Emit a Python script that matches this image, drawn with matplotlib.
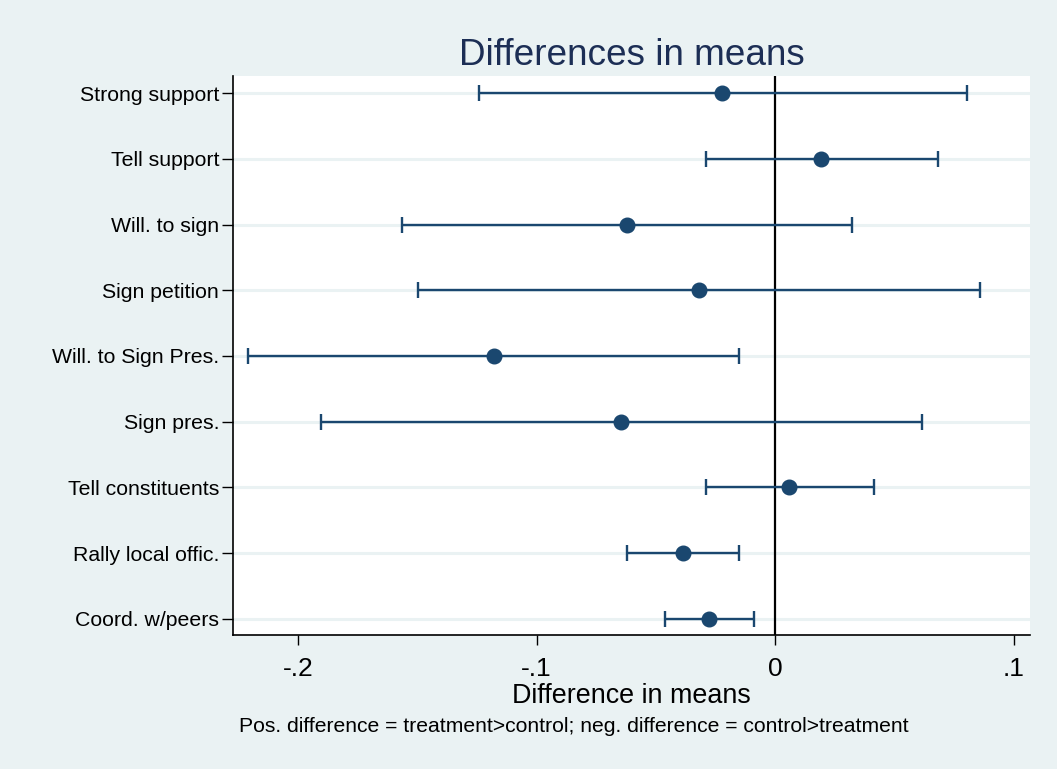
#!/usr/bin/env python
# dot plot of differences in means with 95% CIs, stata s2color look

import numpy as np
import matplotlib.pyplot as plt

plt.rcParams['font.family'] = ['Liberation Sans', 'DejaVu Sans']

labels = ['Strong support', 'Tell support', 'Will. to sign', 'Sign petition',
          'Will. to Sign Pres.', 'Sign pres.', 'Tell constituents',
          'Rally local offic.', 'Coord. w/peers']
diff = [-0.0221, 0.0193, -0.0620, -0.0317, -0.1179, -0.0647, 0.0060, -0.0385, -0.0275]
ci_lo = [-0.1242, -0.0290, -0.1566, -0.1497, -0.2209, -0.1903, -0.0290, -0.0619, -0.0463]
ci_hi = [0.0805, 0.0681, 0.0321, 0.0861, -0.0153, 0.0615, 0.0413, -0.0150, -0.0088]
xticks = [-0.2, -0.1, 0, 0.1]
xticklabels = ['-.2', '-.1', '0', '.1']

bg = '#EAF2F3'
navy = '#1A476F'

fig = plt.figure(figsize=(10.57, 7.69), dpi=100, facecolor=bg)
ax = fig.add_axes([0.2204, 0.1743, 0.7541, 0.7269])
ax.set_facecolor('white')

y = np.arange(1, len(labels) + 1)
d = np.array(diff)
err = [d - np.array(ci_lo), np.array(ci_hi) - d]

for yy in y:
    ax.axhline(yy, color=bg, lw=2.2, zorder=1)
ax.axvline(0, color='black', lw=1.6, zorder=2)

ax.errorbar(d, y, xerr=err, fmt='none', ecolor=navy, elinewidth=1.7,
            capsize=6, capthick=1.7, zorder=3)
ax.plot(d, y, 'o', color=navy, ms=10.5, zorder=4)

ax.set_xlim(-0.2273, 0.1069)
ax.set_ylim(9.243, 0.741)

ax.set_yticks(y)
ax.set_yticklabels(labels, fontsize=15.3)
ax.set_xticks(xticks)
ax.set_xticklabels(xticklabels, fontsize=19)
ax.tick_params(axis='y', length=8, width=1, pad=2)
ax.tick_params(axis='x', length=7, width=1, pad=9)

for s in ['top', 'right']:
    ax.spines[s].set_visible(False)
ax.spines['left'].set_linewidth(1.2)
ax.spines['bottom'].set_linewidth(1.2)

ax.set_xlabel('Difference in means', fontsize=19.4, labelpad=1)
ax.set_title('Differences in means', fontsize=26.6, color='#1C2E55', pad=8)

fig.text(573.5 / 1057, 1 - 727 / 769, 'Pos. difference = treatment>control; neg. difference = control>treatment',
         ha='center', va='center', fontsize=15.2)

fig.savefig('out.png', dpi=100, facecolor=bg)
